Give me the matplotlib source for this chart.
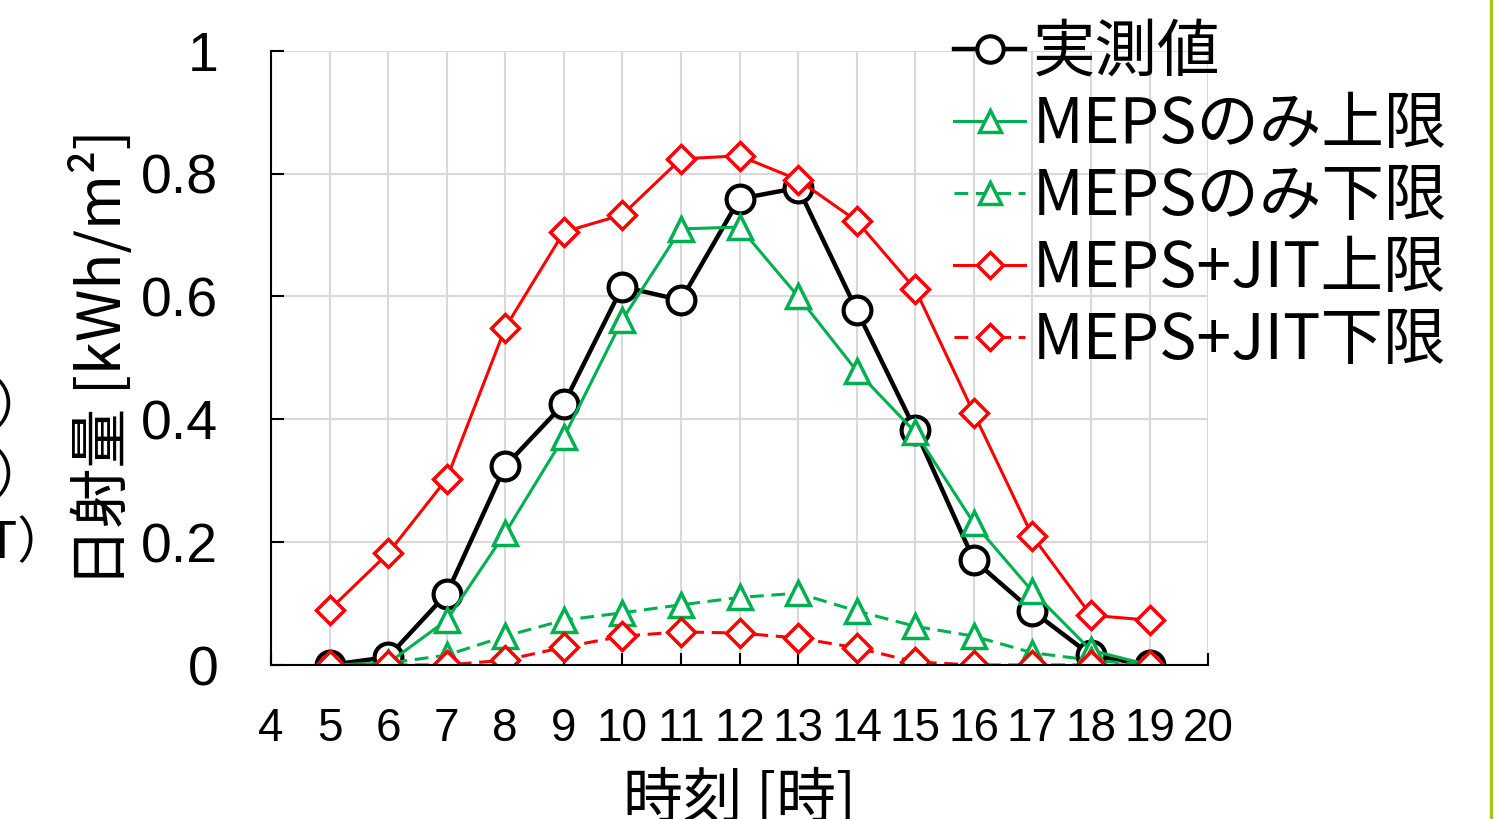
import matplotlib
matplotlib.use("Agg")
import matplotlib.pyplot as plt
from matplotlib.lines import Line2D

plt.rcParams['font.family'] = ['Noto Sans CJK JP', 'DejaVu Sans']

# 時刻
hours = [5, 6, 7, 8, 9, 10, 11, 12, 13, 14, 15, 16, 17, 18, 19]
# 実測値
measured = [0, 0.013, 0.116, 0.324, 0.425, 0.616, 0.594, 0.759, 0.777, 0.578, 0.383, 0.171, 0.088, 0.016, 0]
# MEPSのみ 上限 / 下限
meps_up = [0, 0.003, 0.073, 0.215, 0.371, 0.562, 0.71, 0.713, 0.60, 0.479, 0.379, 0.231, 0.12, 0.024, 0]
meps_low = [0, 0.003, 0.016, 0.047, 0.073, 0.085, 0.098, 0.11, 0.117, 0.088, 0.063, 0.047, 0.02, 0.008, 0]
# MEPS+JIT 上限 / 下限
jit_up = [0.09, 0.182, 0.303, 0.549, 0.705, 0.733, 0.824, 0.829, 0.79, 0.723, 0.612, 0.41, 0.21, 0.081, 0.073]
jit_low = [0, 0, 0, 0.008, 0.029, 0.047, 0.054, 0.052, 0.044, 0.028, 0.005, 0, 0, 0, 0]

xticks = list(range(4, 21))
yticks = [0, 0.2, 0.4, 0.6, 0.8, 1.0]
yticklabels = ["0", "0.2", "0.4", "0.6", "0.8", "1"]

green = "#00b050"
red = "#ff0000"
num_font = ['Liberation Sans', 'DejaVu Sans']

fig = plt.figure(figsize=(14.97, 8.19), dpi=100)
ax = fig.add_axes([0.181, 0.188, 0.626, 0.750])

dash = (0, (4.5, 2.5))
ax.plot(hours, measured, color="black", lw=3.2, marker="o", ms=20, mfc="white", mew=3, label="実測値")
ax.plot(hours, meps_up, color=green, lw=2.2, marker="^", ms=17, mfc="white", mew=2.5, label="MEPSのみ上限")
ax.plot(hours, meps_low, color=green, lw=2.2, ls=dash, marker="^", ms=17, mfc="white", mew=2.5, label="MEPSのみ下限")
ax.plot(hours, jit_up, color=red, lw=2.2, marker="D", ms=14, mfc="white", mew=2.5, label="MEPS+JIT上限")
ax.plot(hours, jit_low, color=red, lw=2.2, ls=dash, marker="D", ms=14, mfc="white", mew=2.5, label="MEPS+JIT下限")

ax.set_xlim(4, 20)
ax.set_ylim(0, 1)
ax.set_xticks(xticks)
ax.set_yticks(yticks)
ax.set_yticklabels(yticklabels)
ax.grid(True, color="#d9d9d9", lw=1.5)
ax.set_axisbelow(True)
for s in ["top", "right"]:
    ax.spines[s].set_visible(False)
for s in ["left", "bottom"]:
    ax.spines[s].set_linewidth(1.5)
ax.tick_params(axis="x", direction="in", length=9, width=1.5, labelsize=33, pad=30)
ax.tick_params(axis="y", direction="in", length=9, width=1.5, labelsize=40, pad=38)
for lab in ax.get_xticklabels() + ax.get_yticklabels():
    lab.set_fontfamily(num_font)

ax.set_xlabel("時刻 [時]", fontsize=43, labelpad=14)
ax.set_ylabel("日射量 [kWh/m²]", fontsize=43, labelpad=4)

fig.legend(loc="upper left", bbox_to_anchor=(0.637, 0.975), frameon=False,
           fontsize=45, handlelength=1.15, handletextpad=0.12, labelspacing=0.13,
           borderpad=0, borderaxespad=0, markerscale=0.95)

# 隣の図の切れ端
fig.text(0.030, 0.502, "（上限）", fontsize=36, ha="right", va="center")
fig.text(0.030, 0.416, "（下限）", fontsize=36, ha="right", va="center")
fig.text(0.045, 0.335, "（MEPS+JIT）", fontsize=36, ha="right", va="center")
fig.add_artist(Line2D([0.9963, 0.9963], [0, 1], transform=fig.transFigure, color="#a5c81a", lw=2.5))

fig.savefig("out.png", dpi=100)
